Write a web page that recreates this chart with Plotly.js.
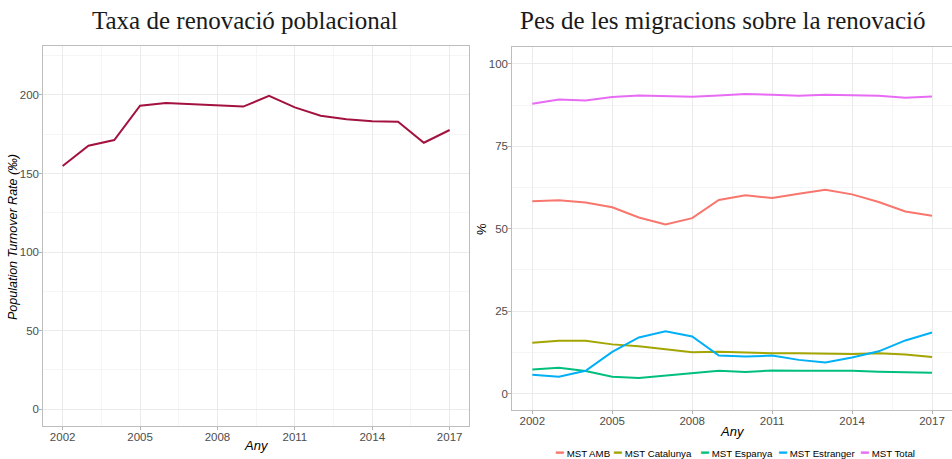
<!DOCTYPE html>
<html>
<head>
<meta charset="utf-8">
<script src="https://cdn.plot.ly/plotly-3.0.1.min.js"></script>
<style>html,body{margin:0;padding:0;background:#fff;}#chart{width:952px;height:459px;}</style>
</head>
<body>
<div id="chart"></div>
<script>
const years = [2002,2003,2004,2005,2006,2007,2008,2009,2010,2011,2012,2013,2014,2015,2016,2017];
const turnover = [154.8,167.7,171.3,193.2,194.9,194.0,193.3,192.6,199.4,192.1,186.8,184.5,183.2,183.0,169.6,177.7];
const mstAMB = [58.3,58.6,57.9,56.5,53.4,51.3,53.2,58.7,60.1,59.3,60.6,61.8,60.4,58.1,55.2,53.9];
const mstCatalunya = [15.4,16.0,16.0,14.9,14.3,13.5,12.5,12.7,12.4,12.2,12.2,12.0,12.0,12.2,11.8,11.1];
const mstEspanya = [7.3,7.8,6.8,5.1,4.7,5.4,6.0,6.9,6.5,7.0,6.9,6.9,6.9,6.6,6.4,6.3];
const mstEstranger = [5.7,5.1,6.9,12.6,17.0,18.9,17.3,11.5,11.2,11.5,10.2,9.4,10.9,12.8,16.1,18.5];
const mstTotal = [87.9,89.2,88.9,89.9,90.4,90.2,90.0,90.4,90.8,90.6,90.3,90.6,90.5,90.3,89.7,90.1];
const seriesNames = ['MST AMB','MST Catalunya','MST Espanya','MST Estranger','MST Total'];
const seriesValues = [mstAMB, mstCatalunya, mstEspanya, mstEstranger, mstTotal];
const seriesColors = ['#F8766D','#A3A500','#00BF7D','#00B0F6','#E76BF3'];
const xTicks = [2002,2005,2008,2011,2014,2017];

const W = 952, H = 459;
const traces = [{
  x: years, y: turnover, type: 'scatter', mode: 'lines',
  line: {color: '#A3123F', width: 2}, xaxis: 'x', yaxis: 'y', showlegend: false
}];
seriesNames.forEach((n, i) => traces.push({
  x: years, y: seriesValues[i], type: 'scatter', mode: 'lines', name: n,
  line: {color: seriesColors[i], width: 2}, xaxis: 'x2', yaxis: 'y2', showlegend: false
}));

const tickFont = {family: 'Liberation Sans, Arial, sans-serif', size: 11.5, color: '#4D4D4D'};
const titleFont = {family: 'Liberation Sans, Arial, sans-serif', size: 13, color: '#000'};
function xax(domain, anchor) {
  return {
    domain: domain, anchor: anchor, range: [2001.25, 2017.75], tickvals: xTicks,
    ticks: 'outside', ticklen: 3, tickcolor: '#B3B3B3', tickfont: tickFont, ticklabelstandoff: -3,
    showline: true, linecolor: '#BDBDBD', linewidth: 1, mirror: true,
    showgrid: true, gridcolor: '#EBEBEB', gridwidth: 1, zeroline: false, automargin: false,
    minor: {dtick: 1.5, tick0: 2003.5, showgrid: true, gridcolor: '#F5F5F5', gridwidth: 1, ticks: ''}
  };
}
function yax(domain, anchor, range, dtick) {
  return {
    domain: domain, anchor: anchor, range: range, dtick: dtick, tick0: 0,
    ticks: 'outside', ticklen: 3, tickcolor: '#B3B3B3', tickfont: tickFont, ticklabelstandoff: -2,
    showline: true, linecolor: '#BDBDBD', linewidth: 1, mirror: true,
    showgrid: true, gridcolor: '#EBEBEB', gridwidth: 1, zeroline: false, automargin: false,
    minor: {dtick: dtick / 2, tick0: dtick / 2, showgrid: true, gridcolor: '#F5F5F5', gridwidth: 1, ticks: ''}
  };
}
function txt(text, x, y, font, angle) {
  return {text: text, xref: 'paper', yref: 'paper', x: x / W, y: 1 - y / H,
    xanchor: 'center', yanchor: 'middle', showarrow: false, font: font, textangle: angle || 0};
}

// compact ggplot-style legend built from the series names/colours
const legendX = [554, 612, 699, 777, 859];
const legendAnn = seriesNames.map((n, i) => ({
  text: '<span style="color:' + seriesColors[i] + '; font-size:13px;">━</span> ' + n,
  xref: 'paper', yref: 'paper', x: (legendX[i] - 1) / W, y: 1 - 452 / H,
  xanchor: 'left', yanchor: 'middle', showarrow: false,
  font: {family: 'Liberation Sans, Arial, sans-serif', size: 9.7, color: '#000'}
}));
const titleSerif = {family: 'Liberation Serif, serif', size: 25, color: '#1a1a1a'};

const layout = {
  width: W, height: H,
  margin: {l: 0, r: 0, t: 0, b: 0},
  paper_bgcolor: '#fff', plot_bgcolor: '#fff',
  showlegend: false,
  xaxis: xax([43.3 / W, 469 / W], 'y'),
  yaxis: yax([1 - 426 / H, 1 - 46 / H], 'x', [-10.8, 231.2], 50),
  xaxis2: xax([512.3 / W, 1.0], 'y2'),
  yaxis2: yax([1 - 410 / H, 1 - 47.3 / H], 'x2', [-5, 105], 25),
  annotations: [
    txt('Taxa de renovació poblacional', 245, 21, titleSerif),
    txt('Pes de les migracions sobre la renovació', 722, 21, titleSerif),
    txt('<i>Any</i>', 256, 445, titleFont),
    txt('<i>Any</i>', 732, 431, titleFont),
    txt('<i>Population Turnover Rate (‰)</i>', 13, 237, {family: titleFont.family, size: 12.5, color: '#000'}, -90),
    txt('%', 482, 229, titleFont, -90)
  ].concat(legendAnn)
};
Plotly.newPlot('chart', traces, layout, {displayModeBar: false, staticPlot: true});
</script>
</body>
</html>
